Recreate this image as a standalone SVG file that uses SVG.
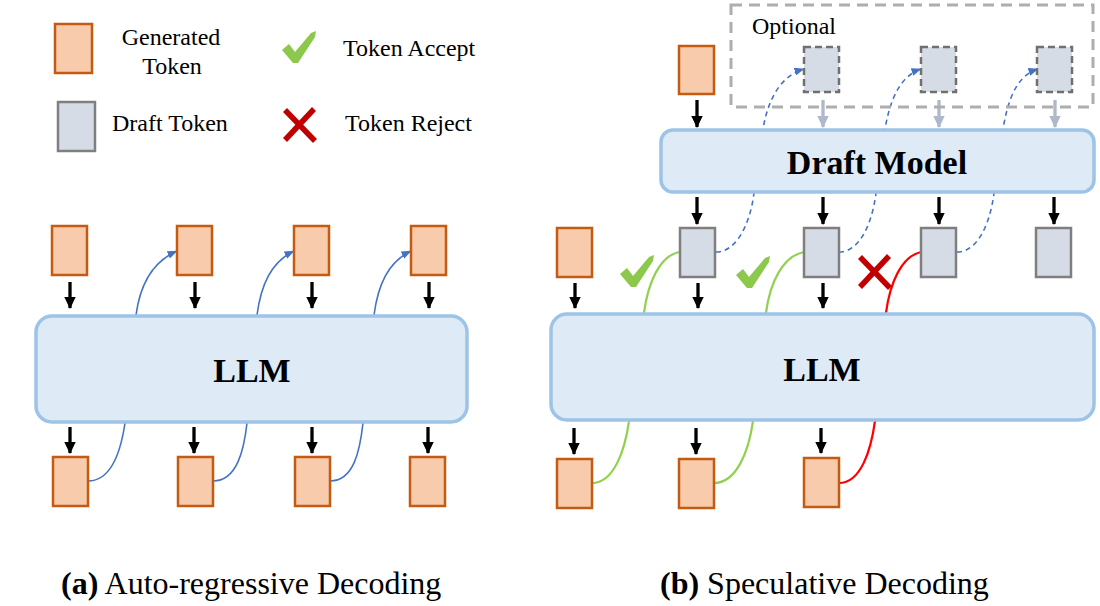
<svg xmlns="http://www.w3.org/2000/svg" xmlns:xlink="http://www.w3.org/1999/xlink" width="1100" height="606" viewBox="0 0 1100 606">
<style>
text{font-family:"Liberation Serif","Times New Roman",serif;fill:#000}
.lg{font-size:24px}
.big{font-size:34px;font-weight:bold;text-anchor:middle}
.cap{font-size:32px}
.gen{fill:#f8cbad;stroke:#c55a11;stroke-width:2.5}
.dft{fill:#d6dce5;stroke:#7f7f7f;stroke-width:2.5}
.dftd{fill:#d6dce5;stroke:#707070;stroke-width:2.5;stroke-dasharray:7 4}
.model{fill:#deebf7;stroke:#9dc3e6;stroke-width:3.5}
.opt{fill:none;stroke:#aeaeae;stroke-width:3;stroke-dasharray:11 7}
.ka{stroke:#000;stroke-width:3.3;fill:none;marker-end:url(#ak)}
.ga{stroke:#adb9ca;stroke-width:3.3;fill:none;marker-end:url(#ag)}
.bl{stroke:#4472c4;stroke-width:1.6;fill:none;marker-end:url(#ab)}
.bld{stroke:#4472c4;stroke-width:1.6;fill:none;stroke-dasharray:5 4;marker-end:url(#ab)}
.gr{stroke:#92d050;stroke-width:2.2;fill:none}
.rd{stroke:#ff0000;stroke-width:2.2;fill:none}
.chk{fill:#8cc84b}
.xm{stroke:#c00000;stroke-width:5.5;fill:none}
</style>
<defs>
<marker id="ak" viewBox="0 0 12 12" refX="11" refY="6" markerWidth="12" markerHeight="12" markerUnits="userSpaceOnUse" orient="auto"><path d="M0,0.3 L12,6 L0,11.7 z" fill="#000"/></marker>
<marker id="ag" viewBox="0 0 12 12" refX="11" refY="6" markerWidth="12" markerHeight="12" markerUnits="userSpaceOnUse" orient="auto"><path d="M0,0.3 L12,6 L0,11.7 z" fill="#adb9ca"/></marker>
<marker id="ab" viewBox="0 0 10 8" refX="9.5" refY="4" markerWidth="10" markerHeight="8" markerUnits="userSpaceOnUse" orient="auto"><path d="M0,0 L10,4 L0,8 z" fill="#4472c4"/></marker>
<path id="chk" d="M0,19 L7,13 L13,21 L29,2 L34,0 L33,6 L16,32 L11,32 Z"/>
<g id="xmk"><line x1="2" y1="2" x2="32" y2="33"/><line x1="31" y1="1" x2="2" y2="32"/></g>
</defs>

<!-- Legend -->
<g id="legend">
<rect class="gen" x="55" y="24" width="37" height="49"/>
<text class="lg" x="171" y="45" text-anchor="middle">Generated</text>
<text class="lg" x="172" y="74" text-anchor="middle">Token</text>
<rect class="dft" x="58" y="102" width="37" height="49"/>
<text class="lg" x="112" y="131">Draft Token</text>
<use xlink:href="#chk" class="chk" transform="translate(282,31)"/>
<text class="lg" x="343" y="56">Token Accept</text>
<use xlink:href="#xmk" class="xm" transform="translate(283,108)"/>
<text class="lg" x="345" y="131">Token Reject</text>
</g>

<!-- Connectors -->
<g id="connectors">
<!-- (a) -->
<path class="bl" d="M88,481 C112,481 121,450 125,423 L136,315 C140,285 152,262 177,251"/>
<path class="bl" d="M213,481 C237,481 244,450 247,423 L257,315 C261,285 271,262 294,251"/>
<path class="bl" d="M330,481 C354,481 360,450 363,423 L374,315 C378,285 388,262 411,251"/>
<line class="ka" x1="70" y1="282" x2="70" y2="308"/>
<line class="ka" x1="195" y1="282" x2="195" y2="308"/>
<line class="ka" x1="312" y1="282" x2="312" y2="308"/>
<line class="ka" x1="429" y1="282" x2="429" y2="308"/>
<line class="ka" x1="70" y1="427" x2="70" y2="453"/>
<line class="ka" x1="194" y1="427" x2="194" y2="453"/>
<line class="ka" x1="312" y1="427" x2="312" y2="453"/>
<line class="ka" x1="428" y1="427" x2="428" y2="453"/>
<!-- (b) -->
<path class="gr" d="M592,483 C614,483 625,450 629,421 L644,313 C648,282 660,256 679,252"/>
<path class="gr" d="M714,483 C737,483 749,450 753,421 L766,313 C770,282 783,256 804,252"/>
<path class="rd" d="M839,483 C861,483 871,450 875,421 L886,313 C890,282 902,256 921,252"/>
<path class="bld" d="M716,252 C736,252 750,225 754,193 L763,129 C768,100 780,76 804,69"/>
<path class="bld" d="M839,252 C859,252 872,225 876,193 L885,129 C890,100 900,76 921,69"/>
<path class="bld" d="M957,252 C977,252 990,225 994,193 L1003,129 C1008,100 1016,76 1038,69"/>
<line class="ka" x1="697" y1="100" x2="697" y2="127"/>
<line class="ga" x1="823" y1="100" x2="823" y2="127"/>
<line class="ga" x1="939" y1="100" x2="939" y2="127"/>
<line class="ga" x1="1055" y1="100" x2="1055" y2="127"/>
<line class="ka" x1="697" y1="197" x2="697" y2="224"/>
<line class="ka" x1="823" y1="197" x2="823" y2="224"/>
<line class="ka" x1="939" y1="197" x2="939" y2="224"/>
<line class="ka" x1="1054" y1="197" x2="1054" y2="224"/>
<line class="ka" x1="575" y1="283" x2="575" y2="308"/>
<line class="ka" x1="698" y1="283" x2="698" y2="308"/>
<line class="ka" x1="823" y1="283" x2="823" y2="308"/>
<line class="ka" x1="574" y1="428" x2="574" y2="454"/>
<line class="ka" x1="696" y1="428" x2="696" y2="454"/>
<line class="ka" x1="821" y1="428" x2="821" y2="453"/>
</g>

<!-- (a) Auto-regressive nodes -->
<g id="a-llm"><rect class="model" x="36" y="316" width="431" height="106" rx="16"/><text class="big" x="252" y="382">LLM</text></g>
<g id="a-top1"><rect class="gen" x="52" y="226" width="35" height="49"/></g>
<g id="a-top2"><rect class="gen" x="177" y="226" width="35" height="49"/></g>
<g id="a-top3"><rect class="gen" x="294" y="226" width="35" height="49"/></g>
<g id="a-top4"><rect class="gen" x="411" y="226" width="35" height="49"/></g>
<g id="a-bot1"><rect class="gen" x="53" y="457" width="35" height="49"/></g>
<g id="a-bot2"><rect class="gen" x="178" y="457" width="35" height="49"/></g>
<g id="a-bot3"><rect class="gen" x="295" y="457" width="35" height="49"/></g>
<g id="a-bot4"><rect class="gen" x="410" y="457" width="35" height="49"/></g>

<!-- (b) Speculative nodes -->
<g id="optional"><rect class="opt" x="731" y="5" width="362" height="102"/><text class="lg" x="752" y="34">Optional</text></g>
<g id="b-opt1"><rect class="dftd" x="804" y="47" width="35" height="45"/></g>
<g id="b-opt2"><rect class="dftd" x="921" y="47" width="35" height="45"/></g>
<g id="b-opt3"><rect class="dftd" x="1037" y="47" width="35" height="45"/></g>
<g id="b-gen0"><rect class="gen" x="679" y="46" width="35" height="48"/></g>
<g id="draft-model"><rect class="model" x="661" y="130" width="433" height="62" rx="12"/><text class="big" x="877" y="174">Draft Model</text></g>
<g id="b-gen1"><rect class="gen" x="557" y="228" width="35" height="49"/></g>
<g id="b-d1"><rect class="dft" x="680" y="228" width="35" height="49"/></g>
<g id="b-d2"><rect class="dft" x="804" y="228" width="35" height="49"/></g>
<g id="b-d3"><rect class="dft" x="921" y="228" width="35" height="49"/></g>
<g id="b-d4"><rect class="dft" x="1036" y="228" width="35" height="49"/></g>
<g id="b-accept1"><use xlink:href="#chk" class="chk" transform="translate(620,255)"/></g>
<g id="b-accept2"><use xlink:href="#chk" class="chk" transform="translate(736,256)"/></g>
<g id="b-reject"><use xlink:href="#xmk" class="xm" transform="translate(858,255)"/></g>
<g id="b-llm"><rect class="model" x="551" y="314" width="543" height="106" rx="16"/><text class="big" x="822" y="381">LLM</text></g>
<g id="b-bot1"><rect class="gen" x="557" y="459" width="35" height="49"/></g>
<g id="b-bot2"><rect class="gen" x="679" y="459" width="35" height="49"/></g>
<g id="b-bot3"><rect class="gen" x="804" y="458" width="35" height="49"/></g>

<!-- Captions -->
<text class="cap" x="61" y="594"><tspan font-weight="bold">(a)</tspan> Auto-regressive Decoding</text>
<text class="cap" x="660" y="594"><tspan font-weight="bold">(b)</tspan> Speculative Decoding</text>
</svg>
